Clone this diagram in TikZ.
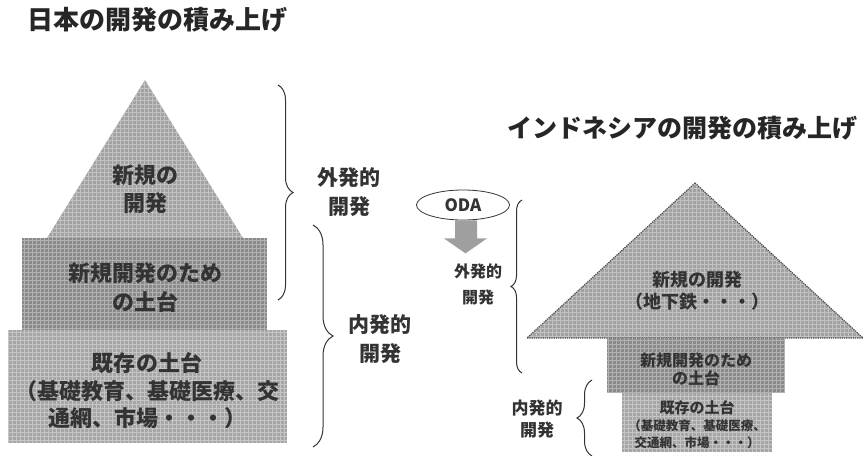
\documentclass[tikz,border=0pt]{standalone}
\usepackage{fontspec}
\setmainfont{Noto Sans CJK JP}
\usetikzlibrary{decorations.pathreplacing,shapes.geometric}
\definecolor{triL}{HTML}{A2A2A2}
\definecolor{midL}{HTML}{8A8A8A}
\definecolor{botL}{HTML}{A6A6A6}
\definecolor{txt}{HTML}{333333}
\newcommand\gridshape[2]{%
  \fill[#1] #2;
  \begin{scope}\clip #2; \draw[gridln] (0,0) grid[step=4pt] (864,455);\end{scope}}
\begin{document}
\begin{tikzpicture}[x=1pt,y=-1pt,
  gridln/.style={white,opacity=0.35,line width=0.4pt},
  title/.style={text=black!85,inner sep=0pt},
  lbl/.style={align=center,text=txt,inner sep=0pt},
  bracestyle/.style={decorate,line width=1pt,black!80}]
\useasboundingbox (0,0) rectangle (864,455);

% ---------- left: Japan ----------
\node[title,anchor=west,font=\fontsize{26}{30}\selectfont\bfseries] (tJ) at (27,20) {日本の開発の積み上げ};

\gridshape{triL}{(145,80) -- (243,238) -- (47,238) -- cycle}
\gridshape{midL}{(22,238) rectangle (267,330)}
\gridshape{botL}{(8,330) rectangle (287,443)}

\node[lbl,font=\fontsize{22}{28}\selectfont\bfseries] (jNew) at (145,189) {新規の\\開発};
\node[lbl,font=\fontsize{22}{29}\selectfont\bfseries] (jMid) at (145,287.5) {新規開発のため\\の土台};
\node[lbl,font=\fontsize{22}{27.5}\selectfont\bfseries] (jBase) at (147,391) {既存の土台\\（基礎教育、基礎医療、交\\通網、市場・・・）};

\coordinate (b1a) at (278,85);  \coordinate (b1b) at (278,300);
\draw[bracestyle,decoration={brace,amplitude=15pt}] (b1a) -- (b1b);
\node[lbl,font=\fontsize{21}{29}\selectfont\bfseries] (jExt) at (349,192.5) {外発的\\開発};

\coordinate (b2a) at (313,225); \coordinate (b2b) at (313,447);
\draw[bracestyle,decoration={brace,amplitude=20pt}] (b2a) -- (b2b);
\node[lbl,font=\fontsize{21}{29}\selectfont\bfseries] (jInt) at (380,339) {内発的\\開発};

% ---------- right: Indonesia ----------
\node[title,anchor=west,font=\fontsize{25}{30}\selectfont\bfseries] (tI) at (507,128) {インドネシアの開発の積み上げ};

\gridshape{triL}{(695,183) -- (863,338) -- (527,338) -- cycle}
\draw[black!70,densely dotted,line width=1.2pt] (695,183) -- (863,338) -- (527,338) -- cycle;
\gridshape{midL}{(607,338) rectangle (785,393)}
\gridshape{botL}{(622,393) rectangle (772,452)}

\node[lbl,font=\fontsize{18}{22}\selectfont\bfseries] (iNew) at (697,291) {新規の開発\\（地下鉄・・・）};
\node[lbl,font=\fontsize{16}{18}\selectfont\bfseries] (iMid) at (696,369) {新規開発のため\\の土台};
\node[lbl,font=\fontsize{12.5}{17}\selectfont\bfseries] (iBase) at (697,425) {{\fontsize{15}{17}\selectfont 既存の土台}\\（基礎教育、基礎医療、\\交通網、市場・・・）};

\node[ellipse,draw=black!80,line width=0.8pt,minimum width=93pt,minimum height=30pt,inner sep=0pt,
      font=\fontsize{17}{20}\selectfont\bfseries,text=txt] (oda) at (463,205) {ODA};
\fill[gray!75] ([xshift=-8pt]oda.south) -- ++(22,0) -- ++(0,18) -- ++(10,0) -- ++(-21.5,15) -- ++(-21.5,-15) -- ++(11,0) -- cycle;
\node[lbl,font=\fontsize{16}{26}\selectfont\bfseries] (iExt) at (478,284) {外発的\\開発};

\coordinate (b3a) at (522,373); \coordinate (b3b) at (522,200);
\draw[bracestyle,decoration={brace,amplitude=11pt}] (b3a) -- (b3b);

\coordinate (b4a) at (592,456); \coordinate (b4b) at (592,380);
\draw[bracestyle,decoration={brace,amplitude=15pt}] (b4a) -- (b4b);
\node[lbl,font=\fontsize{17}{22}\selectfont\bfseries] (iInt) at (537,419) {内発的\\開発};
\end{tikzpicture}
\end{document}
